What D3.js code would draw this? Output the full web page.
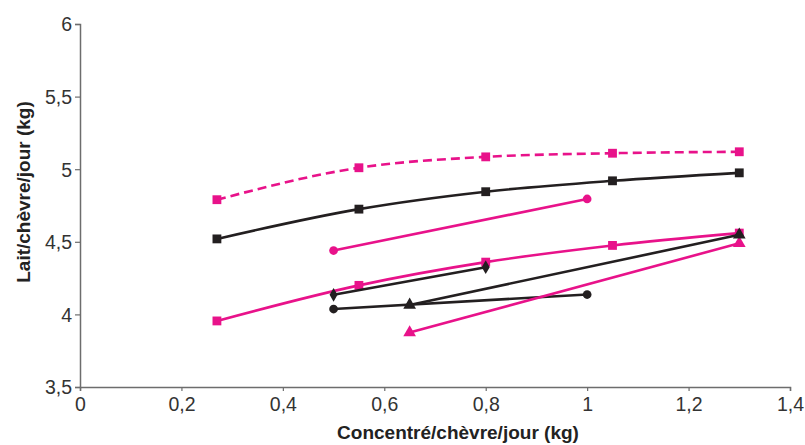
<!DOCTYPE html>
<html><head><meta charset="utf-8">
<script src="https://cdn.jsdelivr.net/npm/d3@7"></script>
<style>body{margin:0;background:#fff}svg{display:block}text{font-family:"Liberation Sans",Arial,sans-serif}</style>
</head><body><svg id="c" width="805" height="445"></svg>
<script>
const xTicks = [0, 0.2, 0.4, 0.6, 0.8, 1, 1.2, 1.4];
const yTicks = [3.5, 4, 4.5, 5, 5.5, 6];
const xTickLabels = ["0", "0,2", "0,4", "0,6", "0,8", "1", "1,2", "1,4"];
const yTickLabels = ["3,5", "4", "4,5", "5", "5,5", "6"];
const xTitle = "Concentré/chèvre/jour (kg)";
const yTitle = "Lait/chèvre/jour (kg)";

const pinkDashedX = [0.27, 0.55, 0.8, 1.05, 1.3];
const pinkDashedY = [4.79, 5.01, 5.085, 5.11, 5.12];
const blackSquareX = [0.27, 0.55, 0.8, 1.05, 1.3];
const blackSquareY = [4.52, 4.725, 4.845, 4.92, 4.975];
const pinkCircleX = [0.5, 1.0];
const pinkCircleY = [4.44, 4.795];
const pinkSquareX = [0.27, 0.55, 0.8, 1.05, 1.3];
const pinkSquareY = [3.955, 4.2, 4.36, 4.475, 4.56];
const blackDiamondX = [0.5, 0.8];
const blackDiamondY = [4.135, 4.325];
const blackCircleX = [0.5, 1.0];
const blackCircleY = [4.037, 4.137];
const blackTriangleX = [0.65, 1.3];
const blackTriangleY = [4.065, 4.548];
const pinkTriangleX = [0.65, 1.3];
const pinkTriangleY = [3.875, 4.49];

const PINK = "#e8128a", BLACK = "#231f20";
const series = [
  {x: pinkDashedX, y: pinkDashedY, color: PINK, marker: "square", dash: "9,5", curve: true},
  {x: blackSquareX, y: blackSquareY, color: BLACK, marker: "square", curve: true},
  {x: pinkCircleX, y: pinkCircleY, color: PINK, marker: "circle"},
  {x: pinkSquareX, y: pinkSquareY, color: PINK, marker: "square", curve: true},
  {x: blackDiamondX, y: blackDiamondY, color: BLACK, marker: "diamond"},
  {x: blackCircleX, y: blackCircleY, color: BLACK, marker: "circle"},
  {x: pinkTriangleX, y: pinkTriangleY, color: PINK, marker: "triangle"},
  {x: blackTriangleX, y: blackTriangleY, color: BLACK, marker: "triangle"}
];

const svg = d3.select("#c");
const x = d3.scaleLinear().domain([0, 1.4]).range([80, 790]);
const y = d3.scaleLinear().domain([3.5, 6]).range([387, 24]);
const axisColor = "#6d6d6d";

// axes
const gx = svg.append("g").attr("transform", `translate(0,${y(3.5)})`)
  .call(d3.axisBottom(x).tickValues(xTicks).tickFormat((d,i)=>xTickLabels[i]).tickSize(4).tickPadding(6));
const gy = svg.append("g").attr("transform", `translate(${x(0)},0)`)
  .call(d3.axisLeft(y).tickValues(yTicks).tickFormat((d,i)=>yTickLabels[i]).tickSize(5).tickPadding(3));
[gx, gy].forEach(g => {
  g.select(".domain").attr("stroke", axisColor).attr("stroke-width", 1.5);
  g.selectAll(".tick line").attr("stroke", axisColor).attr("stroke-width", 1.2);
  g.selectAll(".tick text").attr("fill", "#333").style("font-size", "19.5px")
   .style("font-family", '"Liberation Sans", Arial, sans-serif');
});
gy.selectAll(".tick text").attr("dy", "0.35em");

svg.append("text").attr("x", 458).attr("y", 439).attr("text-anchor", "middle")
  .style("font-size", "19px").style("font-weight", "bold").attr("fill", "#222").text(xTitle);
svg.append("text").attr("transform", "translate(30,192) rotate(-90)").attr("text-anchor", "middle")
  .style("font-size", "19px").style("font-weight", "bold").attr("fill", "#222").text(yTitle);

const plot = svg.append("g");
series.forEach(s => {
  const pts = s.x.map((v, i) => [v, s.y[i]]);
  const line = d3.line().x(d => x(d[0])).y(d => y(d[1]))
    .curve(s.curve ? d3.curveMonotoneX : d3.curveLinear);
  plot.append("path").attr("d", line(pts)).attr("fill", "none")
    .attr("stroke", s.color).attr("stroke-width", 2.6)
    .attr("stroke-dasharray", s.dash || null);
  const symType = {square: d3.symbolSquare, circle: d3.symbolCircle, diamond: d3.symbolDiamond, triangle: d3.symbolTriangle}[s.marker];
  const size = {square: 78, circle: 60, diamond: 55, triangle: 70}[s.marker];
  plot.selectAll(null).data(pts).enter().append("path")
    .attr("d", d3.symbol().type(symType).size(size))
    .attr("transform", d => `translate(${x(d[0])},${y(d[1])})`)
    .attr("fill", s.color);
});
</script></body></html>
